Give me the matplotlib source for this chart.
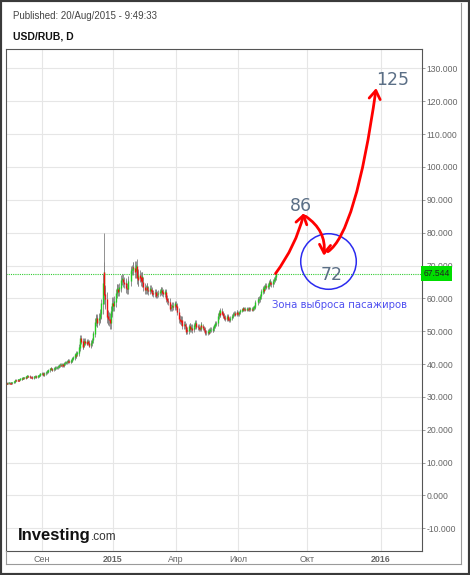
import numpy as np
import pandas as pd
import matplotlib
matplotlib.use('Agg')
import matplotlib.pyplot as plt
import matplotlib.dates as mdates
from matplotlib.lines import Line2D
from matplotlib.patches import Rectangle

# USD/RUB daily closes, Tue 01/Jul/2014 .. Thu 20/Aug/2015 (one row per week)
closes = [
    34.2, 34.0, 34.1, 34.2,
    34.3, 34.2, 34.3, 34.2, 34.4,
    34.5, 34.6, 34.9, 35.1, 35.0,
    35.2, 35.1, 35.0, 35.3, 35.5,
    35.6, 35.7, 35.8, 35.7, 35.8,
    36.1, 36.0, 36.2, 36.4, 36.3,
    36.2, 36.1, 36.0, 36.0, 35.9,
    36.0, 36.1, 36.3, 36.2, 36.2,
    36.4, 36.5, 36.6, 36.8, 37.0,
    37.2, 37.0, 36.8, 36.9, 37.2,
    37.5, 37.7, 37.6, 37.9, 38.1,
    38.5, 38.7, 38.5, 38.3, 38.4,
    38.6, 38.7, 38.9, 38.8, 39.0,
    39.2, 39.4, 39.6, 39.8, 39.7,
    39.9, 39.6, 39.8, 40.2, 40.4,
    40.5, 40.8, 41.0, 40.9, 40.7,
    40.8, 41.0, 41.2, 41.6, 42.0,
    42.3, 42.8, 42.5, 43.2, 43.4,
    44.2, 45.0, 46.5, 47.8, 47.0,
    45.3, 45.9, 46.8, 47.0, 46.6,
    46.4, 46.9, 46.5, 45.9, 45.8,
    46.0, 46.4, 47.2, 48.5, 49.3,
    52.7, 53.7, 54.0, 52.6, 53.4,
    54.0, 54.2, 55.2, 55.4, 58.3,
    64.5, 68.0, 61.2, 60.5, 59.9,
    54.6, 54.3, 53.8, 53.6, 52.6,
    56.0, 56.8, 58.5, 57.8, 59.0,
    61.5, 62.8, 63.0, 62.2, 63.3,
    64.0, 65.5, 66.0, 65.1, 64.6,
    64.2, 63.2, 62.9, 64.3, 65.2,
    67.8, 68.5, 68.7, 69.5, 69.3,
    68.3, 70.0, 66.4, 65.8, 67.0,
    66.4, 65.3, 66.6, 65.0, 63.6,
    62.6, 62.8, 63.5, 62.6, 62.3,
    63.0, 62.5, 62.0, 61.6, 61.5,
    61.8, 61.5, 61.0, 61.3, 61.6,
    62.0, 62.4, 62.6, 61.8, 61.4,
    62.0, 61.5, 60.0, 59.2, 59.0,
    57.8, 57.0, 57.3, 57.8, 57.6,
    58.0, 58.3, 57.6, 56.5, 55.9,
    53.8, 53.3, 53.0, 53.4, 51.8,
    52.1, 51.6, 50.0, 50.4, 50.2,
    51.3, 51.5, 50.7, 51.1, 50.6,
    51.2, 51.6, 52.6, 51.8, 51.5,
    51.3, 50.9, 50.8, 52.0, 51.5,
    51.0, 50.5, 49.8, 49.6, 49.5,
    49.9, 49.7, 50.2, 50.5, 50.4,
    50.5, 50.9, 51.6, 52.3, 52.5,
    53.6, 54.6, 55.6, 55.2, 56.3,
    55.5, 54.7, 54.3, 54.1, 53.8,
    54.6, 54.3, 53.6, 53.5, 53.9,
    54.6, 54.8, 55.2, 55.5, 55.1,
    55.8, 55.5, 55.3, 55.7, 56.3,
    56.6, 57.0, 56.7, 56.8, 56.5,
    56.8, 56.7, 57.0, 56.8, 56.9,
    56.6, 57.2, 57.5, 57.6, 58.8,
    59.6, 59.5, 59.8, 60.6, 62.0,
    62.9, 62.5, 63.3, 63.9, 63.6,
    63.8, 64.9, 65.1, 64.6, 64.4,
    65.2, 65.7, 66.4, 67.544,
]
# typical high/low shadow beyond the body, per week
wick_by_week = [0.2, 0.2, 0.3, 0.3, 0.3, 0.3, 0.3, 0.3, 0.3, 0.4,
                0.4, 0.4, 0.4, 0.4, 0.5, 0.5, 0.5, 0.7, 1.0, 0.8,
                0.7, 0.8, 1.2, 1.5, 3.0, 2.0, 1.8, 1.5, 1.5, 1.5,
                1.5, 2.0, 1.5, 1.2, 1.0, 1.0, 1.0, 1.0, 1.0, 1.0,
                1.2, 1.0, 1.0, 0.8, 0.8, 0.7, 0.7, 0.7, 0.8, 0.7,
                0.6, 0.6, 0.6, 0.5, 0.5, 0.6, 0.8, 0.8, 0.8, 0.8]
spike_highs = {'2014-12-16': 80.0, '2015-02-03': 71.5}

last_price = 67.544
# hand-drawn forecast: 86 -> 72 -> 125
fc_dates = ['2015-08-20', '2015-09-27', '2015-09-29', '2015-10-22', '2015-10-27', '2015-12-26']
fc_values = [67.544, 86.0, 85.0, 73.0, 74.2, 124.0]
fc_labels = ['86', '72', '125']
fc_label_dates = ['2015-09-23', '2015-11-01', '2016-01-15']
fc_label_values = [88.1, 67.1, 126.4]
zone_date, zone_value = '2015-10-27', 71.3
zone_text = 'Зона выброса пасажиров'

tick_dates = ['2014-09-01', '2015-01-01', '2015-04-01', '2015-07-01', '2015-10-01', '2016-01-01']
tick_labels = ['Сен', '2015', 'Апр', 'Июл', 'Окт', '2016']
yticks = list(range(-10, 131, 10))

plt.rcParams['font.family'] = ['Liberation Sans', 'DejaVu Sans']

dates = pd.bdate_range('2014-07-01', periods=len(closes))
x = mdates.date2num(dates)
c = np.array(closes)
o = np.r_[c[0], c[:-1]]
week_idx = pd.factorize(dates.to_period('W'))[0]
w = np.array(wick_by_week)[week_idx]
hi = np.maximum(o, c) + w
lo = np.minimum(o, c) - w
for d, v in spike_highs.items():
    hi[dates.get_loc(pd.Timestamp(d))] = v

# investing.com spaces months unevenly, so map dates piecewise to the chart
anchor_d = mdates.date2num(pd.to_datetime(['2014-06-01'] + tick_dates + ['2016-06-01']))
anchor_p = np.array([-11.5, 42, 113, 176, 238, 307, 381, 503.3])
def fwd(v):
    return np.interp(v, anchor_d, anchor_p)
def inv(p):
    return np.interp(p, anchor_p, anchor_d)

W, H = 470, 575
fig = plt.figure(figsize=(W / 100, H / 100), dpi=100)
ax = fig.add_axes([6 / W, 1 - 551 / H, (422 - 6) / W, (551 - 49) / H])
ax.set_xscale('function', functions=(fwd, inv))

up = c >= o
ax.vlines(x, lo, hi, color='#808080', lw=0.6, zorder=2)
ax.vlines(x[up], o[up], c[up] + 0.15, color='#22cc22', lw=1.0, zorder=3)
ax.vlines(x[~up], o[~up], c[~up] - 0.15, color='#ee1111', lw=1.0, zorder=3)

ax.axhline(last_price, color='#33cc33', lw=0.8, ls=(0, (1, 1)), zorder=1)

fx = mdates.date2num(pd.to_datetime(fc_dates))
arrow = dict(arrowstyle='->,head_length=0.6,head_width=0.4', color='#ff0000', lw=2,
             shrinkA=0, shrinkB=0)
for i, cs in zip(range(0, 6, 2), ['arc3,rad=0.1', 'arc3,rad=-0.3', 'angle3,angleA=34,angleB=82']):
    ax.annotate('', xy=(fx[i + 1], fc_values[i + 1]), xytext=(fx[i], fc_values[i]),
                arrowprops=dict(arrow, connectionstyle=cs), zorder=5)

ax.plot(mdates.date2num(pd.Timestamp(zone_date)), zone_value, marker='o', ms=40,
        mfc='none', mec='#2b2bef', mew=1.1, zorder=4)
for t, d, v in zip(fc_labels, fc_label_dates, fc_label_values):
    ax.text(mdates.date2num(pd.Timestamp(d)), v, t, ha='center', va='center',
            fontsize=12.5, color='#5b6f86', family='DejaVu Sans', zorder=6)
ax.text(mdates.date2num(pd.Timestamp('2015-08-15')), 58.0, zone_text, ha='left', va='center',
        fontsize=7.3, color='#5050f0', family='DejaVu Sans', zorder=6)

ax.set_xlim(inv(6), inv(422))
ax.set_ylim(-16.9, 135.9)
ax.set_xticks(mdates.date2num(pd.to_datetime(tick_dates)))
ax.set_xticklabels(tick_labels)
for lab in ax.get_xticklabels():
    if lab.get_text().isdigit():
        lab.set_fontweight('bold')
        lab.set_color('#444444')
ax.set_yticks(yticks)
ax.set_yticklabels(['{:.3f}'.format(v) for v in yticks])
ax.yaxis.tick_right()
ax.tick_params(axis='y', length=2.2, width=0.6, color='#888888', pad=1,
               labelsize=6.2, labelcolor='#666666')
ax.tick_params(axis='x', length=0, pad=3, labelsize=6.4, labelcolor='#666666')
ax.grid(True, color='#e6e6e6', lw=0.8, zorder=0)
ax.set_axisbelow(True)
for s in ax.spines.values():
    s.set_color('#555555')
    s.set_linewidth(0.8)

ax.text(1.003, last_price, '67.544', transform=ax.get_yaxis_transform(), ha='left', va='center',
        fontsize=6.2, color='#222222',
        bbox=dict(boxstyle='square,pad=0.3', fc='#00dd00', ec='none'), zorder=7)

# investing.com logo
ax.text(0.029, 0.021, 'Investing', transform=ax.transAxes, fontsize=12, fontweight='bold',
        color='#111111', ha='left', va='baseline')
ax.text(0.203, 0.021, '.com', transform=ax.transAxes, fontsize=8.5, color='#333333',
        ha='left', va='baseline')

fig.text(13 / W, 1 - 16 / H, 'Published: 20/Aug/2015 - 9:49:33', fontsize=7, color='#444444',
         va='center')
fig.text(13 / W, 1 - 36.5 / H, 'USD/RUB, D', fontsize=7.5, fontweight='bold', color='#111111',
         va='center')

# widget frame
fig.add_artist(Line2D([461 / W, 461 / W], [1 - 3 / H, 1 - 564 / H], transform=fig.transFigure,
                      color='#9a9a9a', lw=0.8))
fig.add_artist(Line2D([6 / W, 461 / W], [1 - 564 / H, 1 - 564 / H], transform=fig.transFigure,
                      color='#9a9a9a', lw=0.8))
fig.add_artist(Line2D([6 / W, 6 / W], [1 - 551 / H, 1 - 564 / H], transform=fig.transFigure,
                      color='#9a9a9a', lw=0.8))
fig.add_artist(Rectangle((0, 0), 1, 1, transform=fig.transFigure, fill=False,
                         ec='#3a3a3a', lw=3))

fig.savefig('out.png', dpi=100)
